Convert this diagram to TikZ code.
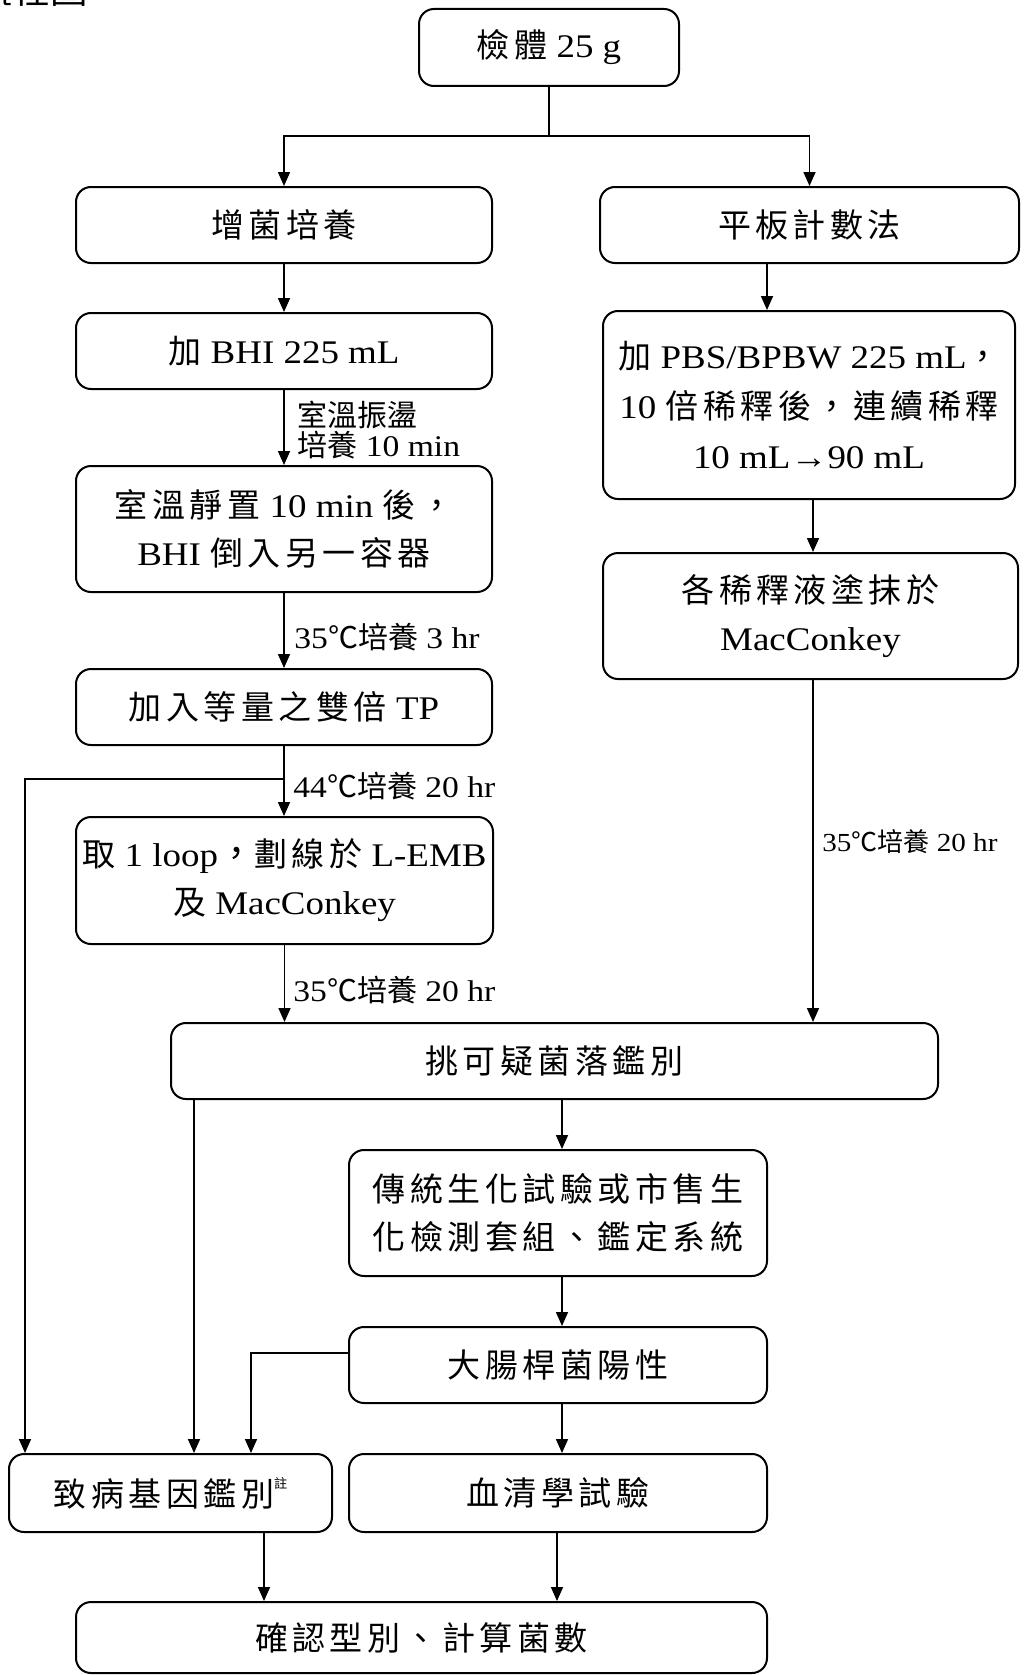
\documentclass[tikz,border=0pt]{standalone}
\usepackage{fontspec}
\setmainfont[FakeStretch=1.12]{Liberation Serif}
\newfontfamily\cjk[LetterSpace=13.6]{Noto Sans CJK TC}
\newfontfamily\cjks[Scale=1.1]{Noto Sans CJK TC}
\newfontfamily\cjkl{Noto Sans CJK TC}
\usetikzlibrary{arrows.meta}

\tikzset{
  box/.style={draw, line width=1pt, rounded corners=7.5pt, align=center,
    minimum width=208pt, minimum height=38pt, inner sep=0pt,
    font=\fontsize{16.5}{24}\selectfont},
  arr/.style={-{Triangle[length=7pt,width=6pt]}, line width=0.8pt},
  lab/.style={anchor=west, align=left, inner sep=0pt,
    font=\fontsize{15}{15}\selectfont},
}

\begin{document}
\begin{tikzpicture}[x=0.5pt,y=-0.5pt]
\useasboundingbox (0,0) rectangle (1027,1675);

% title, cut by the page edge
\node[anchor=base east, inner sep=0pt, font=\fontsize{17}{17}\selectfont\cjks] (title) at (88,4) {流程圖};

% boxes
\node[box, minimum width=130pt, minimum height=38.5pt] (sample) at (549,47.5) {{\cjk 檢體} 25 g};
\node[box] (enrich) at (284,225) {\cjk 增菌培養};
\node[box, minimum width=209.5pt] (plate) at (809.5,225) {\cjk 平板計數法};
\node[box] (bhi) at (284,351) {{\cjk 加} BHI 225 mL};
\node[box, minimum height=63pt] (stand) at (284,529) {{\cjk 室溫靜置} 10 min {\cjk 後，}\\BHI {\cjk 倒入另一容器}};
\node[box] (tp) at (284,707) {{\cjk 加入等量之雙倍} TP};
\node[box, minimum width=208.5pt, minimum height=63.5pt] (loop) at (284.5,880.5) {{\cjk 取} 1 loop{\cjks ，}{\cjk 劃線於} L-EMB\\{\cjk 及} MacConkey};
\node[box, minimum width=206pt, minimum height=94pt, font=\fontsize{16.5}{25}\selectfont] (dilute) at (809,405) {{\cjk 加} PBS/BPBW 225 mL{\cjk ，}\\10 {\cjk 倍稀釋後，連續稀釋}\\10 mL→90 mL};
\node[box, minimum width=207.5pt, minimum height=63pt] (spread) at (810.5,616) {{\cjk 各稀釋液塗抹於}\\MacConkey};
\node[box, minimum width=383.5pt] (pick) at (554.5,1061) {\cjk 挑可疑菌落鑑別};
\node[box, minimum width=209pt, minimum height=63pt] (biochem) at (558,1213) {{\cjk 傳統生化試驗或市售生}\\{\cjk 化檢測套組、鑑定系統}};
\node[box, minimum width=209pt] (ecoli) at (558,1365) {\cjk 大腸桿菌陽性};
\node[box, minimum width=161.5pt, minimum height=39pt] (gene) at (170.5,1493) {{\cjk 致病基因鑑別}\raisebox{1.2ex}{\fontsize{6}{6}\selectfont\cjks 註}};
\node[box, minimum width=209pt, minimum height=39pt] (sero) at (558,1493) {\cjk 血清學試驗};
\node[box, minimum width=345.5pt, minimum height=35.5pt] (confirm) at (421.5,1637.5) {\cjk 確認型別、計算菌數};

% labels on the arrows
\node[lab] (t1) at (297,430) {{\cjkl 室溫振盪}\\{\cjkl 培養} 10 min};
\node[lab] (t2) at (294,637) {35{\cjkl ℃培養} 3 hr};
\node[lab] (t3) at (293,786) {44{\cjkl ℃培養} 20 hr};
\node[lab] (t4) at (293,990) {35{\cjkl ℃培養} 20 hr};
\node[lab, font=\fontsize{13}{15}\selectfont] (t5) at (822,842) {35{\cjkl ℃培養} 20 hr};

% connectors
\coordinate (split) at (549,136);
\coordinate (lbr) at (25,779);
\coordinate (eb) at (251,1353);
\coordinate (xr1) at (767,0);
\coordinate (xr2) at (813,0);
\coordinate (xc) at (562,0);
\coordinate (xl) at (194,0);
\coordinate (xg) at (264,0);
\coordinate (xs) at (557,0);

\draw[line width=0.8pt] (sample.south) -- (split);
\draw[arr] (split) -| (enrich.north);
\draw[arr] (split) -| (plate.north);
\draw[arr] (enrich.south) -- (enrich.south |- bhi.north);
\draw[arr] (bhi.south) -- (bhi.south |- stand.north);
\draw[arr] (stand.south) -- (stand.south |- tp.north);
\draw[arr] (tp.south) -- (tp.south |- loop.north);
\draw[arr] (tp.south |- lbr) -- (lbr) -- (lbr |- gene.north);
\draw[arr] (loop.south) -- (loop.south |- pick.north);
\draw[arr] (plate.south -| xr1) -- (dilute.north -| xr1);
\draw[arr] (dilute.south -| xr2) -- (spread.north -| xr2);
\draw[arr] (spread.south -| xr2) -- (pick.north -| xr2);
\draw[arr] (pick.south -| xc) -- (biochem.north -| xc);
\draw[arr] (pick.south -| xl) -- (gene.north -| xl);
\draw[arr] (biochem.south -| xc) -- (ecoli.north -| xc);
\draw[arr] (ecoli.west |- eb) -- (eb) -- (eb |- gene.north);
\draw[arr] (ecoli.south -| xc) -- (sero.north -| xc);
\draw[arr] (gene.south -| xg) -- (confirm.north -| xg);
\draw[arr] (sero.south -| xs) -- (confirm.north -| xs);
\end{tikzpicture}
\end{document}
